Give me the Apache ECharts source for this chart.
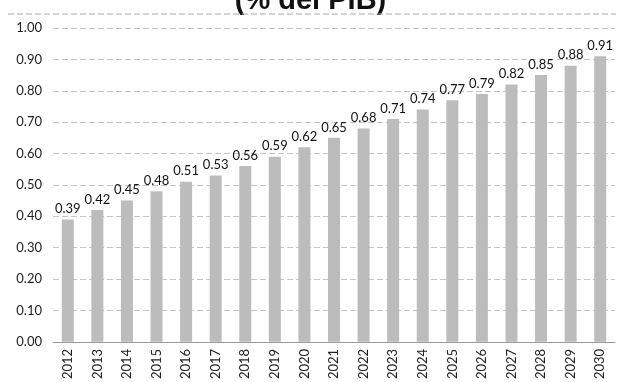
<!DOCTYPE html>
<html>
<head>
<meta charset="utf-8">
<script src="https://cdn.jsdelivr.net/npm/echarts@6/dist/echarts.min.js"></script>
<style>
  html, body { margin: 0; padding: 0; background: #fff; }
  #chart { width: 621px; height: 382px; }
</style>
</head>
<body>
<div id="chart"></div>
<script>
// años y valores (% del PIB)
var years = ['2012', '2013', '2014', '2015', '2016', '2017', '2018', '2019', '2020', '2021',
  '2022', '2023', '2024', '2025', '2026', '2027', '2028', '2029', '2030'];
var values = [0.39, 0.42, 0.45, 0.48, 0.51, 0.53, 0.56, 0.59, 0.62, 0.65,
  0.68, 0.71, 0.74, 0.77, 0.79, 0.82, 0.85, 0.88, 0.91];

var chart = echarts.init(document.getElementById('chart'), null, { renderer: 'canvas' });

var option = {
  backgroundColor: '#ffffff',
  animation: false,
  textStyle: { fontFamily: 'Lato' },
  graphic: [
    {
      type: 'text',
      left: 'center',
      top: -14,
      style: {
        text: '(% del PIB)',
        font: 'bold 29px "Liberation Sans"',
        fill: '#111'
      }
    },
    {
      type: 'line',
      shape: { x1: 8, y1: 14, x2: 616, y2: 14 },
      style: { stroke: '#aaa', lineWidth: 1, lineDash: [6, 3] }
    }
  ],
  grid: { left: 53, right: 6, top: 28, bottom: 39 },
  xAxis: {
    type: 'category',
    data: years,
    axisTick: { show: false },
    axisLine: { lineStyle: { color: '#999' } },
    axisLabel: { rotate: 90, color: '#222', fontSize: 13, margin: 7 }
  },
  yAxis: {
    type: 'value',
    min: 0,
    max: 1,
    interval: 0.1,
    axisLine: { show: false },
    axisTick: { show: false },
    axisLabel: {
      color: '#222',
      fontSize: 13,
      margin: 11,
      formatter: function (v) { return v.toFixed(2); }
    },
    splitLine: { lineStyle: { color: '#c4c4c4', type: [6, 3] } }
  },
  series: [{
    type: 'bar',
    data: values,
    barWidth: 12,
    itemStyle: { color: '#bcbcbc' },
    label: {
      show: true,
      position: 'top',
      distance: 4,
      color: '#111',
      fontSize: 13,
      formatter: function (p) { return p.value.toFixed(2); }
    }
  }]
};

chart.setOption(option);
</script>
</body>
</html>
